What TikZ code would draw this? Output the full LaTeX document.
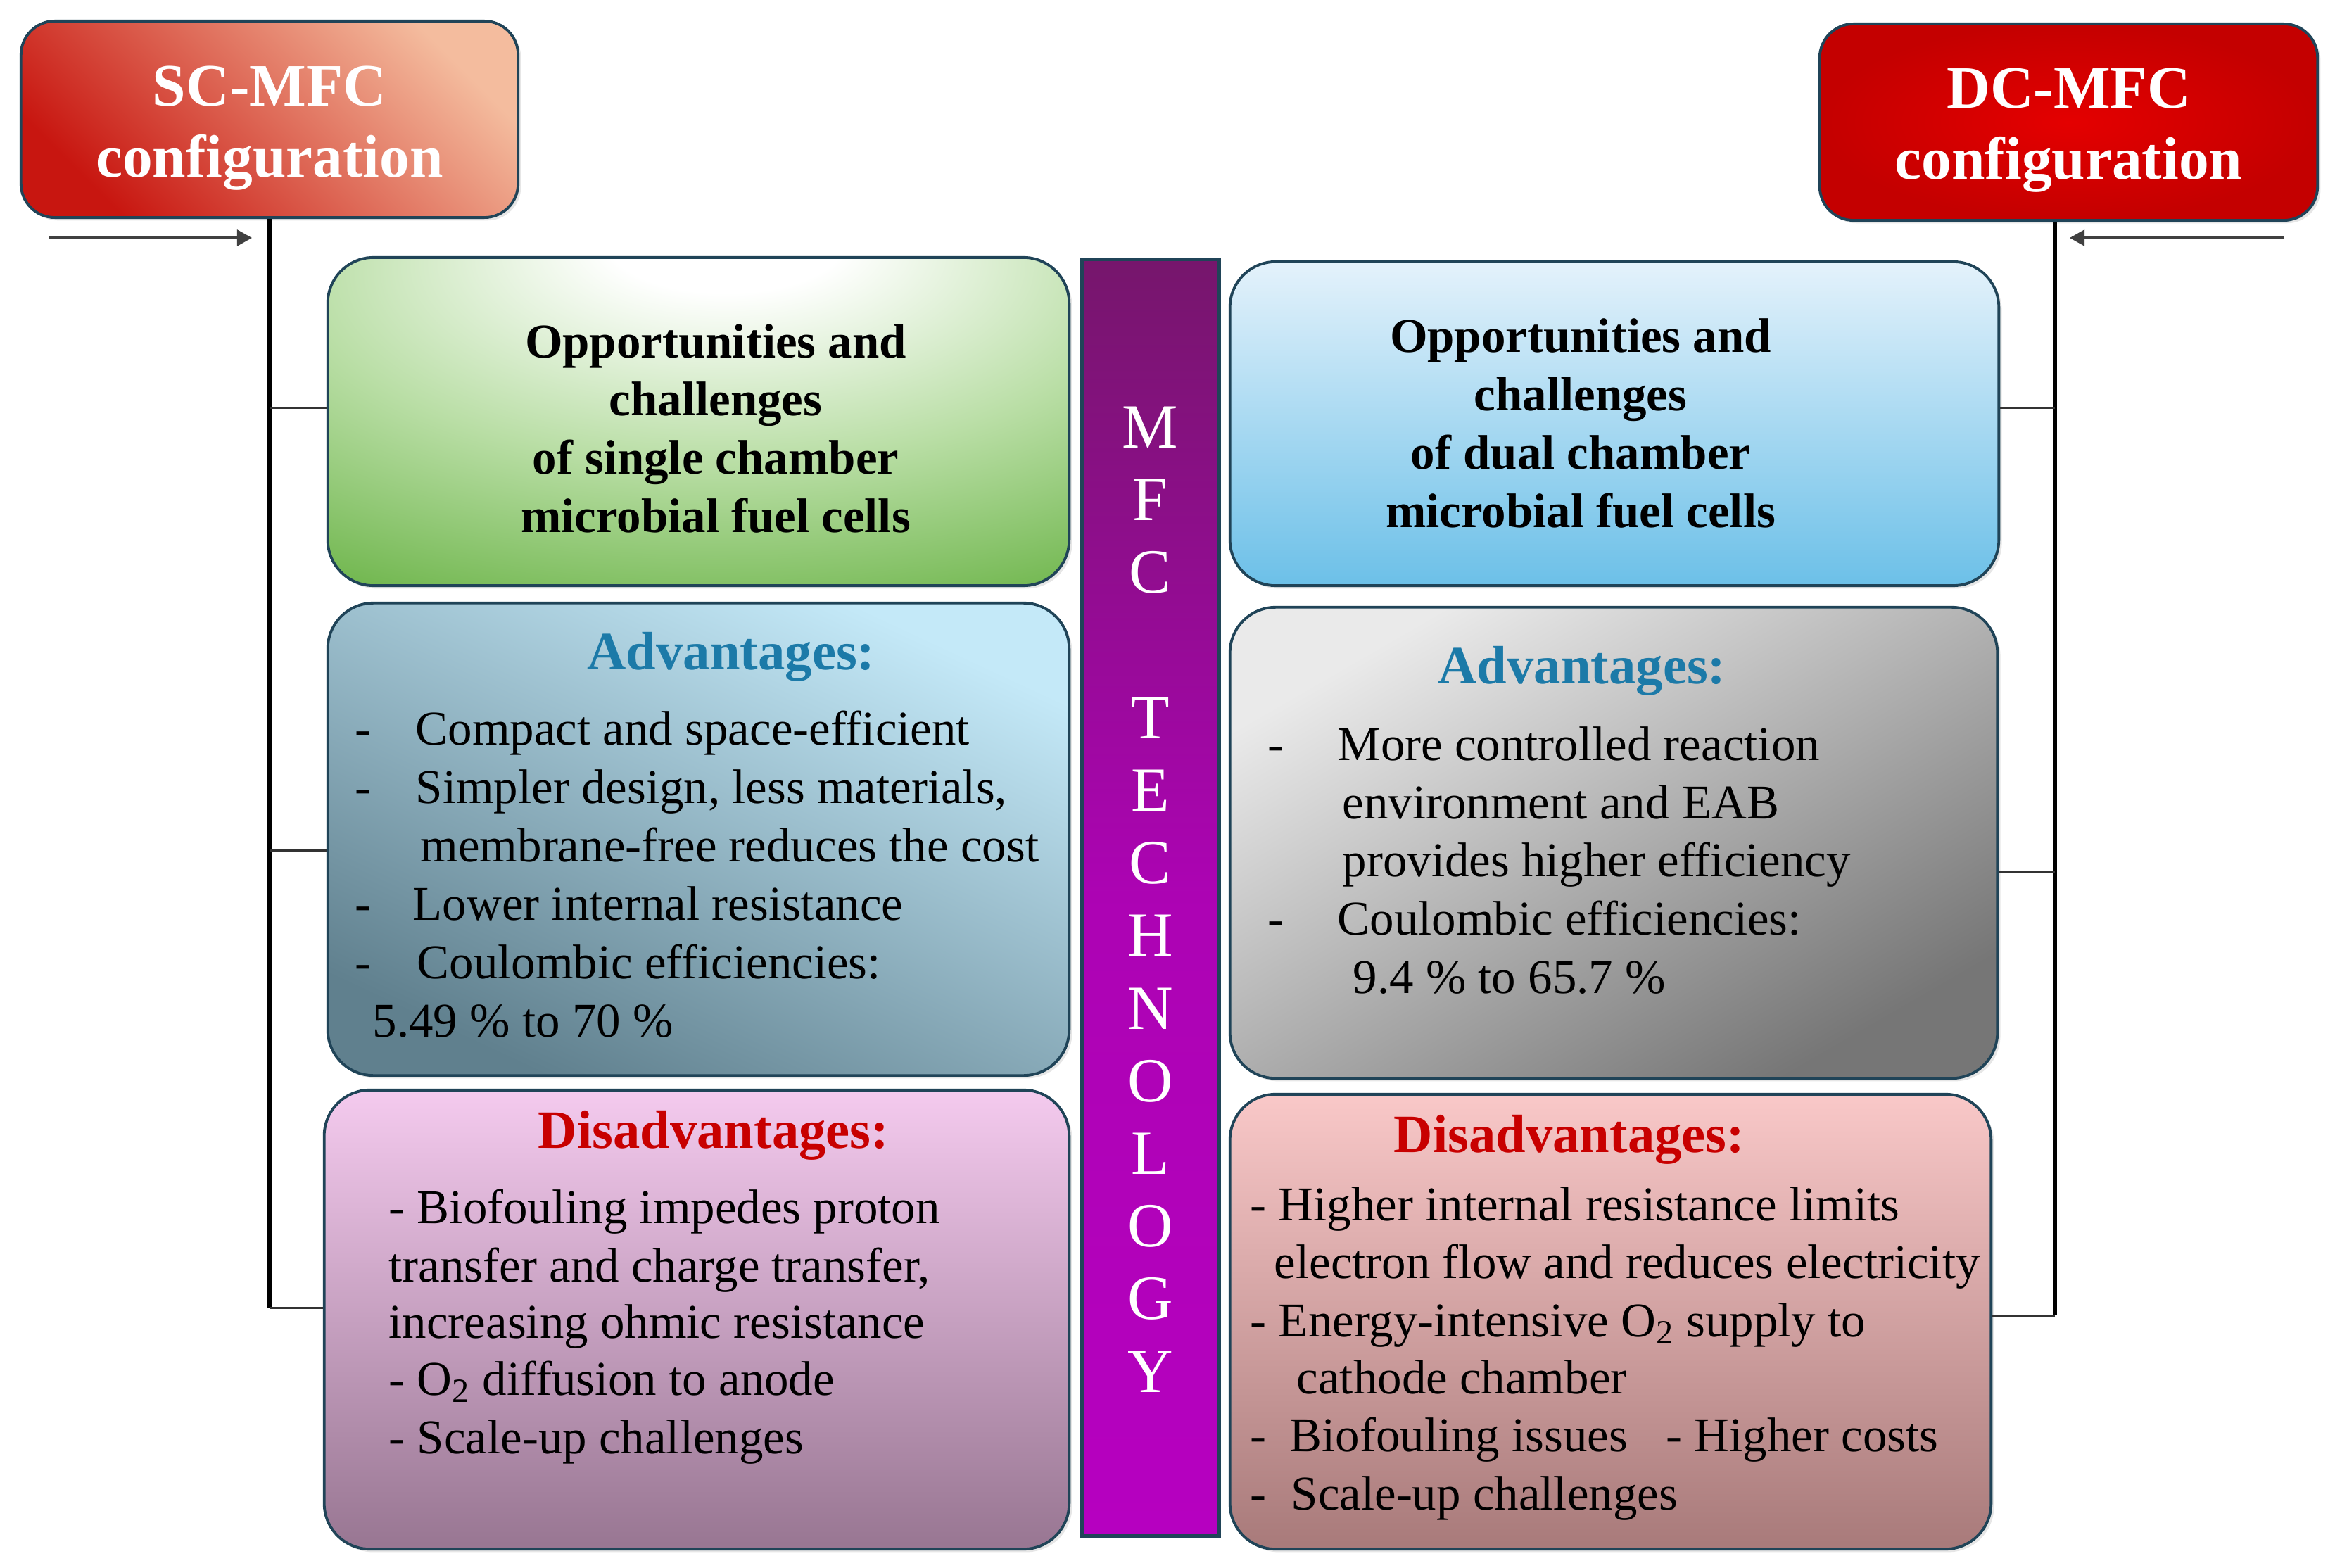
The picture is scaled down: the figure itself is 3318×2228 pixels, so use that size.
\documentclass[tikz,border=0pt]{standalone}
\usepackage{fontspec}
\setmainfont{Liberation Serif}
\usetikzlibrary{arrows.meta,shadows,calc}
\definecolor{bordc}{RGB}{32,68,88}
\definecolor{scd}{RGB}{200,22,16}
\definecolor{scl}{RGB}{244,188,158}
\definecolor{dcl}{RGB}{228,0,0}
\definecolor{dcd}{RGB}{196,0,0}
\definecolor{gdark}{RGB}{104,178,68}
\definecolor{glight}{RGB}{185,222,165}
\definecolor{ladl}{RGB}{196,233,248}
\definecolor{ladd}{RGB}{96,128,142}
\definecolor{ldil}{RGB}{244,202,238}
\definecolor{ldid}{RGB}{152,118,146}
\definecolor{ropl}{RGB}{228,242,251}
\definecolor{ropd}{RGB}{108,192,232}
\definecolor{radl}{RGB}{234,234,234}
\definecolor{radd}{RGB}{118,118,118}
\definecolor{rdil}{RGB}{249,200,200}
\definecolor{rdid}{RGB}{168,122,122}
\definecolor{mfcd}{RGB}{118,22,108}
\definecolor{mfcl}{RGB}{182,0,192}
\definecolor{advc}{RGB}{28,122,168}
\definecolor{disc}{RGB}{200,0,0}
\pgfdeclareradialshading{greenglow}{\pgfpoint{2bp}{30bp}}{color(0bp)=(white); color(8bp)=(white); color(28bp)=(glight); color(50bp)=(gdark); color(100bp)=(gdark)}
\newcommand\FBody{\fontsize{19.6pt}{23.6pt}\selectfont}
\newcommand\FHead{\bfseries\fontsize{21.8pt}{26pt}\selectfont}
\newcommand\FTitle{\bfseries\fontsize{24.3pt}{28.7pt}\selectfont}
\newcommand\FMfc{\fontsize{25.4pt}{29.35pt}\selectfont}
\tikzset{
  box/.style={draw=bordc, line width=1.1pt, rounded corners=0.65cm, inner sep=0,
    drop shadow={shadow xshift=1.2pt, shadow yshift=-1.2pt, opacity=0.2}},
  tbox/.style={box, rounded corners=0.48cm},
  titletxt/.style={text=white, font=\FTitle, align=center, inner sep=0},
  optxt/.style={font=\bfseries\fontsize{19.6pt}{23.6pt}\selectfont, align=center, inner sep=0},
  hd/.style={font=\FHead, anchor=base, inner sep=0},
  body/.style={font=\FBody, anchor=base west, inner sep=0},
  trunk/.style={draw=black, line width=1.7pt},
  stub/.style={draw=black!80, line width=0.85pt},
  arr/.style={draw=black!75, line width=0.85pt, -{Triangle[length=6pt,width=6.5pt]}}
}
\begin{document}
\begin{tikzpicture}[x=0.01cm,y=-0.01cm]
\useasboundingbox (0,0) rectangle (3318,2228);
% title boxes
\node[tbox, minimum width=7.06cm, minimum height=2.79cm, top color=scl, bottom color=scd, shading angle=-45] (sc) at (383,169.5) {};
\node[titletxt] (sct) at (383,182) {SC-MFC\\configuration};
\node[tbox, minimum width=7.07cm, minimum height=2.79cm, inner color=dcl, outer color=dcd] (dc) at (2939.5,173.5) {};
\node[titletxt] (dct) at (2939.5,185) {DC-MFC\\configuration};
% left column
\node[box, minimum width=10.53cm, minimum height=4.66cm, shade, shading=greenglow] (lop) at (992.5,599) {};
\node[box, minimum width=10.53cm, minimum height=6.71cm, top color=ladl, bottom color=ladd, shading angle=-25] (ladv) at (992.5,1192.5) {};
\node[box, minimum width=10.58cm, minimum height=6.52cm, top color=ldil, bottom color=ldid] (ldis) at (990,1875) {};
% centre bar
\node[draw=bordc, line width=1.5pt, minimum width=1.95cm, minimum height=18.13cm, inner sep=0, top color=mfcd, bottom color=mfcl, middle color=mfcl!85!mfcd] (mfc) at (1634.5,1275.5) {};
\node[text=white, font=\FMfc, align=center, inner sep=0] (mfct) at (1634.5,1278) {M\\F\\C\\[29.35pt]T\\E\\C\\H\\N\\O\\L\\O\\G\\Y};
% right column
\node[box, minimum width=10.92cm, minimum height=4.60cm, top color=ropl, bottom color=ropd] (rop) at (2294,602) {};
\node[box, minimum width=10.90cm, minimum height=6.69cm, top color=radl, bottom color=radd, shading angle=30] (radv) at (2293,1197.5) {};
\node[box, minimum width=10.81cm, minimum height=6.46cm, top color=rdil, bottom color=rdid] (rdis) at (2288.5,1878) {};
% connectors left
\coordinate (lj1) at (383,580);
\coordinate (lj2) at (383,1208);
\coordinate (lj3) at (383,1858);
\draw[trunk] (lj3 |- sc.south) -- (lj3);
\draw[stub] (lj1) -- (lj1 -| lop.west);
\draw[stub] (lj2) -- (lj2 -| ladv.west);
\draw[stub] (lj3) -- (lj3 -| ldis.west);
\coordinate (la0) at (69,338);
\draw[arr] (la0) -- ($(la0 -| lj1)+(-25,0)$);
% connectors right
\coordinate (rj1) at (2920,580);
\coordinate (rj2) at (2920,1238);
\coordinate (rj3) at (2920,1869);
\draw[trunk] (rj3 |- dc.south) -- (rj3);
\draw[stub] (rj1) -- (rj1 -| rop.east);
\draw[stub] (rj2) -- (rj2 -| radv.east);
\draw[stub] (rj3) -- (rj3 -| rdis.east);
\coordinate (ra0) at (3246,338);
\draw[arr] (ra0) -- ($(ra0 -| rj1)+(21,0)$);
% opportunity texts
\node[optxt] (lopt) at (1017,609) {Opportunities and\\challenges\\of single chamber\\microbial fuel cells};
\node[optxt] (ropt) at (2246,602) {Opportunities and\\challenges\\of dual chamber\\microbial fuel cells};
% left advantages
\node[hd, text=advc] (lah) at (1039,951) {Advantages:};
\node[body] (la1d) at (504,1058) {-};
\node[body] (la1) at (590,1058) {Compact and space-efficient};
\node[body] (la2d) at (504,1141) {-};
\node[body] (la2) at (590,1141) {Simpler design, less materials,};
\node[body] (la3) at (597,1224) {membrane-free reduces the cost};
\node[body] (la4d) at (504,1307) {-};
\node[body] (la4) at (586,1307) {Lower internal resistance};
\node[body] (la5d) at (504,1390) {-};
\node[body] (la5) at (592,1390) {Coulombic efficiencies:};
\node[body] (la6) at (529,1473) {5.49 \% to 70 \%};
% right advantages
\node[hd, text=advc] (rah) at (2248,971) {Advantages:};
\node[body] (ra1d) at (1801,1080) {-};
\node[body] (ra1) at (1900,1080) {More controlled reaction};
\node[body] (ra2) at (1907,1163) {environment and EAB};
\node[body] (ra3) at (1907,1245) {provides higher efficiency};
\node[body] (ra4d) at (1801,1328) {-};
\node[body] (ra4) at (1900,1328) {Coulombic efficiencies:};
\node[body] (ra5) at (1922,1411) {9.4 \% to 65.7 \%};
% left disadvantages
\node[hd, text=disc] (ldh) at (1014,1631) {Disadvantages:};
\node[body] (ld1) at (552,1738) {- Biofouling impedes proton};
\node[body] (ld2) at (552,1821) {transfer and charge transfer,};
\node[body] (ld3) at (552,1901) {increasing ohmic resistance};
\node[body] (ld4) at (552,1982) {- O\textsubscript{2} diffusion to anode};
\node[body] (ld5) at (552,2065) {- Scale-up challenges};
% right disadvantages
\node[hd, text=disc] (rdh) at (2230,1637) {Disadvantages:};
\node[body] (rd1) at (1776,1734) {- Higher internal resistance limits};
\node[body] (rd2) at (1810,1816) {electron flow and reduces electricity};
\node[body] (rd3) at (1776,1899) {- Energy-intensive O\textsubscript{2} supply to};
\node[body] (rd4) at (1842,1980) {cathode chamber};
\node[body] (rd5d) at (1776,2062) {-};
\node[body] (rd5) at (1832,2062) {Biofouling issues};
\node[body] (rd6) at (2367,2062) {- Higher costs};
\node[body] (rd7d) at (1776,2145) {-};
\node[body] (rd7) at (1834,2145) {Scale-up challenges};
\end{tikzpicture}
\end{document}
